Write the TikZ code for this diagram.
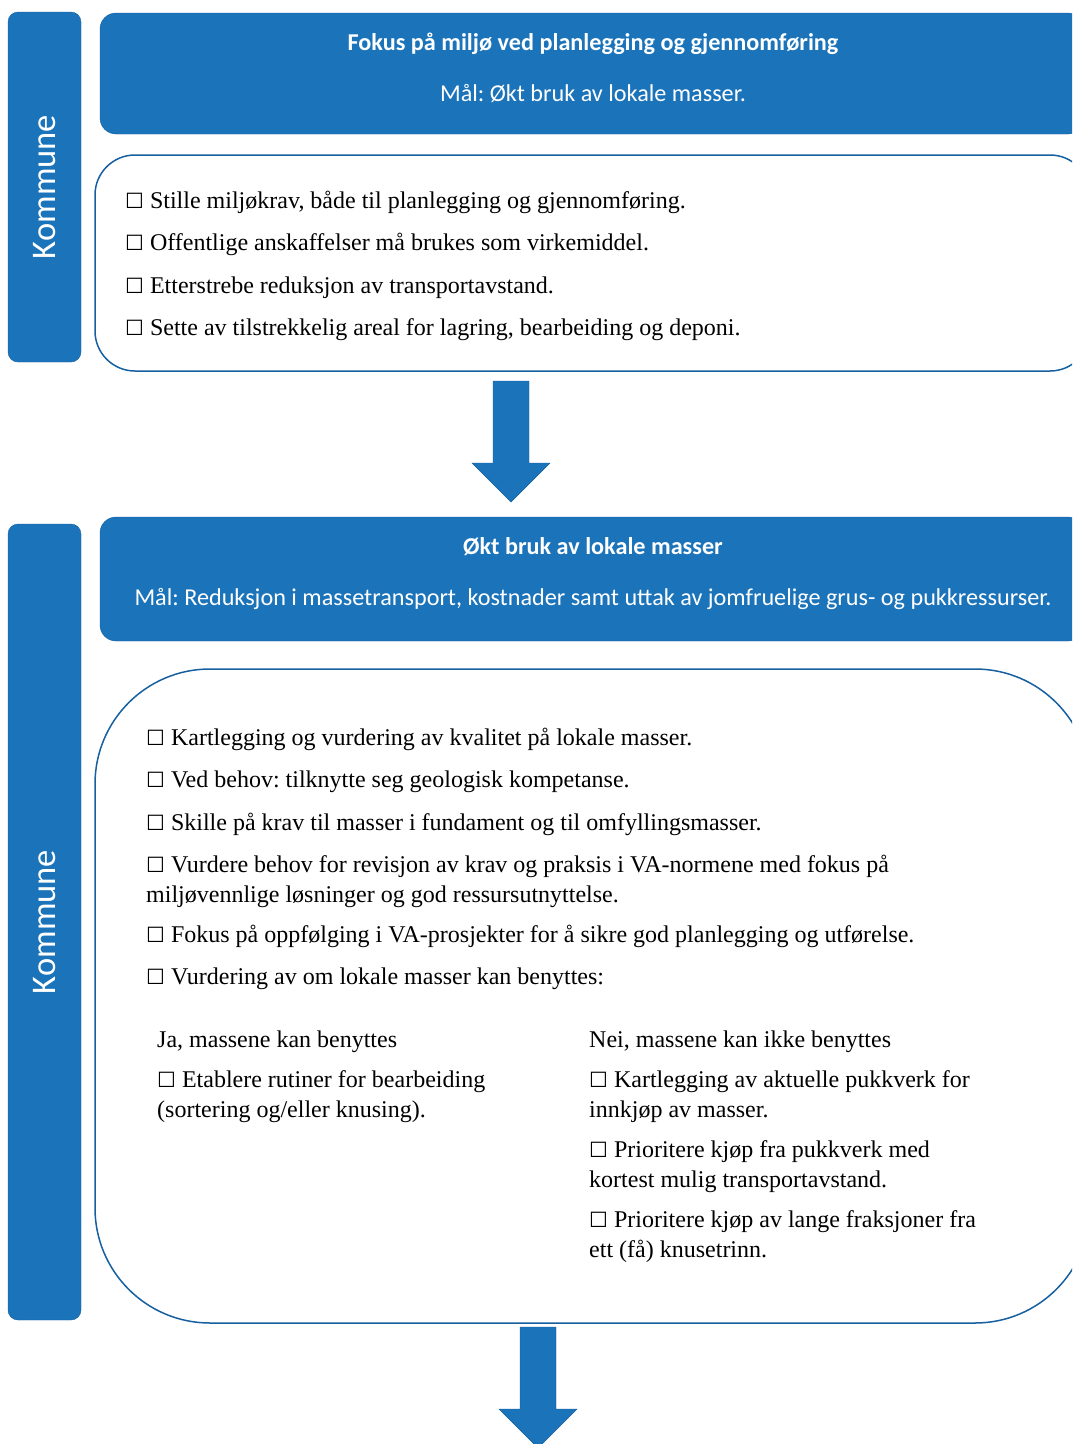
\documentclass[tikz,border=0pt]{standalone}
\usepackage{fontspec}
\setmainfont{Liberation Serif}
\newfontfamily\hdrfont{Carlito}
\newfontfamily\symfont{DejaVu Sans}
\usepackage{xcolor}
\usepackage{tikz}
\usetikzlibrary{positioning}
\frenchspacing

\definecolor{boxblue}{HTML}{1B73BA}
\definecolor{lineblue}{HTML}{17609F}

% ballot box in front of every point
\newcommand{\chk}{{\symfont\fontsize{21}{21}\selectfont\char"2610}}
% big down arrow, top centre at (#1,#2)
\newcommand{\blockarrow}[2]{%
  \draw[bigarrow] (#1-18,#2) -- ++(36,0) -- ++(0,82) -- ++(21,0) -- ++(-39,39)
    -- ++(-39,-39) -- ++(21,0) -- cycle;}

\begin{document}
\begin{tikzpicture}[x=1pt, y=-1pt,
    side/.style={draw=lineblue, fill=boxblue, rounded corners=10pt, rotate=90,
      minimum height=73pt, text=white, font=\hdrfont\fontsize{34.5}{40}\selectfont},
    hdr/.style={draw=lineblue, fill=boxblue, rounded corners=16pt, minimum width=984pt},
    hdrtxt/.style={text=white, align=center, inner sep=0pt, anchor=base,
      font=\hdrfont\fontsize{24.2}{51}\selectfont},
    body/.style={draw=lineblue, line width=1.5pt, fill=white, minimum width=995pt},
    item/.style={anchor=base west, inner sep=0pt, align=left,
      font=\fontsize{24}{30}\selectfont},
    bigarrow/.style={draw=lineblue, fill=boxblue}]

    \useasboundingbox (0,0) rectangle (1072,1444);
    \clip (0,0) rectangle (1072,1444);

    % Kommune
    \node[side, minimum width=350pt] (K1) at (44.5,187) {Kommune};
    \node[side, minimum width=796pt] (K2) at (44.5,922) {Kommune};

    % First step (base = last line)
    \node[hdr, minimum height=121pt] (H1) at (592,73.5) {};
    \node[hdrtxt] (H1t) at (593,101.5)
      {\textbf{Fokus på miljø ved planlegging og gjennomføring}\\Mål: Økt bruk av lokale masser.};
    \node[body, rounded corners=40pt, minimum height=216pt] (B1) at (592.5,263) {};

    \node[item] (A1) at (125,208) {\chk{} Stille miljøkrav, både til planlegging og gjennomføring.};
    \node[item] (A2) at (125,250) {\chk{} Offentlige anskaffelser må brukes som virkemiddel.};
    \node[item] (A3) at (125,293) {\chk{} Etterstrebe reduksjon av transportavstand.};
    \node[item] (A4) at (125,335) {\chk{} Sette av tilstrekkelig areal for lagring, bearbeiding og deponi.};

    \blockarrow{511}{381}

    % Second step
    \node[hdr, minimum height=124pt] (H2) at (592,579) {};
    \node[hdrtxt] (H2t) at (593,605)
      {\textbf{Økt bruk av lokale masser}\\Mål: Reduksjon i massetransport, kostnader samt uttak av jomfruelige grus- og pukkressurser.};
    \node[body, rounded corners=115pt, minimum height=654pt] (B2) at (592.5,996) {};

    \node[item] (C1) at (146,745) {\chk{} Kartlegging og vurdering av kvalitet på lokale masser.};
    \node[item] (C2) at (146,787) {\chk{} Ved behov: tilknytte seg geologisk kompetanse.};
    \node[item] (C3) at (146,830) {\chk{} Skille på krav til masser i fundament og til omfyllingsmasser.};
    \node[item] (C4) at (146,902) {\chk{} Vurdere behov for revisjon av krav og praksis i VA-normene med fokus på\\miljøvennlige løsninger og god ressursutnyttelse.};
    \node[item] (C5) at (146,942) {\chk{} Fokus på oppfølging i VA-prosjekter for å sikre god planlegging og utførelse.};
    \node[item] (C6) at (146,984) {\chk{} Vurdering av om lokale masser kan benyttes:};

    % Ja / Nei
    \node[item] (Ja) at (157,1047) {Ja, massene kan benyttes};
    \node[item] (Ja1) at (157,1117) {\chk{} Etablere rutiner for bearbeiding\\(sortering og/eller knusing).};
    \node[item] (Nei) at (589,1047) {Nei, massene kan ikke benyttes};
    \node[item] (Nei1) at (589,1117) {\chk{} Kartlegging av aktuelle pukkverk for\\innkjøp av masser.};
    \node[item] (Nei2) at (589,1187) {\chk{} Prioritere kjøp fra pukkverk med\\kortest mulig transportavstand.};
    \node[item] (Nei3) at (589,1257) {\chk{} Prioritere kjøp av lange fraksjoner fra\\ett (få) knusetrinn.};

    \blockarrow{538}{1327}

\end{tikzpicture}
\end{document}
